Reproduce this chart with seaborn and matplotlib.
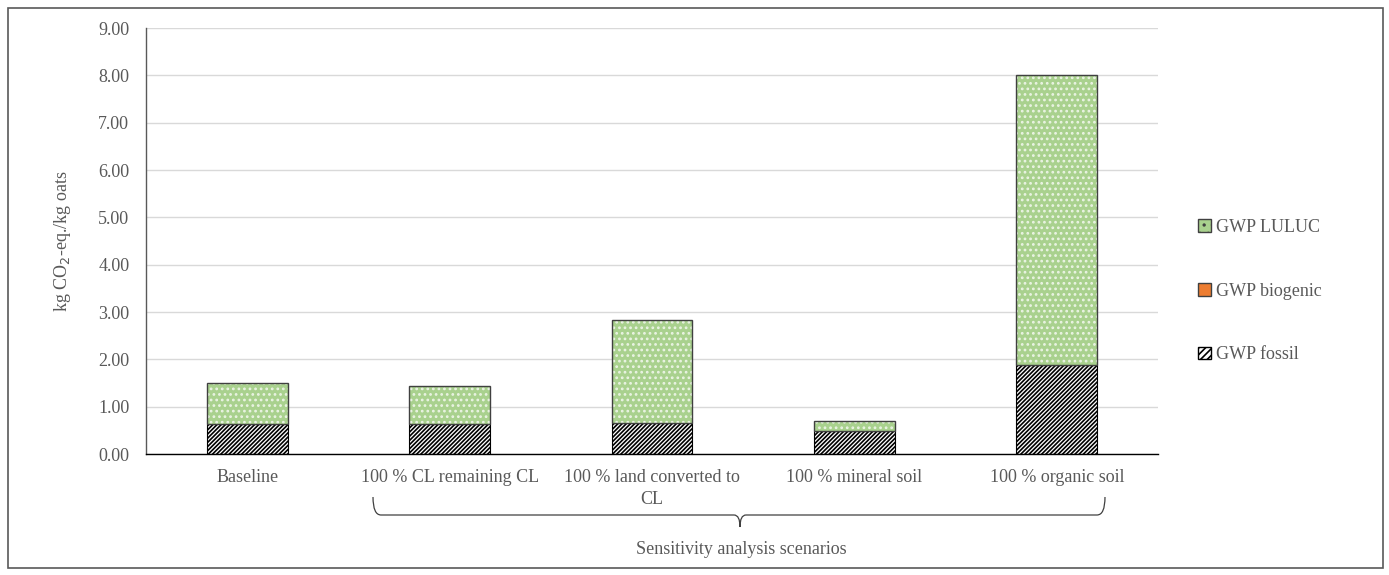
import numpy as np
import pandas as pd
import matplotlib
matplotlib.use("Agg")
import matplotlib.pyplot as plt
import seaborn as sns
from matplotlib.patches import Patch, Rectangle, PathPatch
from matplotlib.path import Path

# ── data ─────────────────────────────────────────────────────────────────────
scenarios = ["Baseline", "100 % CL remaining CL", "100 % land converted to\nCL",
             "100 % mineral soil", "100 % organic soil"]
gwp_fossil = [0.64, 0.64, 0.66, 0.49, 1.89]
gwp_biogenic = [0.0, 0.0, 0.0, 0.0, 0.0]
gwp_luluc = [0.87, 0.79, 2.18, 0.21, 6.11]
yticks = np.arange(0, 9.01, 1.0)

df = pd.DataFrame({"scenario": scenarios, "fossil": gwp_fossil,
                   "biogenic": gwp_biogenic, "luluc": gwp_luluc})
df["base_bio"] = df["fossil"]
df["base_luluc"] = df["fossil"] + df["biogenic"]

GREEN = "#A9D18E"
ORANGE = "#ED7D31"
TXT = "#595959"
FS = 13

sns.set_theme(style="white")
plt.rcParams["font.family"] = ["Liberation Serif", "DejaVu Serif"]
plt.rcParams["hatch.linewidth"] = 1.2

fig = plt.figure(figsize=(13.89, 5.75), dpi=100)
ax = fig.add_axes([0.1051, 0.2104, 0.7286, 0.7409])

# fossil
sns.barplot(data=df, x="scenario", y="fossil", color="white", saturation=1,
            width=0.4, edgecolor="black", linewidth=0.8, hatch="/" * 8, ax=ax)
# biogenic
sns.barplot(data=df, x="scenario", y="biogenic", bottom=df["base_bio"],
            color=ORANGE, saturation=1, width=0.4, linewidth=0, ax=ax)
# LULUC with white dots
sns.barplot(data=df, x="scenario", y="luluc", bottom=df["base_luluc"],
            color=GREEN, saturation=1, width=0.4, edgecolor="#EAF3E3",
            linewidth=0, hatch="...", ax=ax)
# outline of LULUC segment
sns.barplot(data=df, x="scenario", y="luluc", bottom=df["base_luluc"],
            color="#404040", fill=False, saturation=1, width=0.4,
            linewidth=1.0, ax=ax)

ax.set_ylim(0, 9)
ax.set_xlim(-0.5, len(scenarios) - 0.5)
ax.set_yticks(yticks)
ax.set_yticklabels([f"{v:.2f}" for v in yticks], color=TXT, fontsize=FS)
ax.tick_params(axis="x", colors=TXT, labelsize=FS, length=0, pad=11)
ax.tick_params(axis="y", length=0, pad=12)
for t in ax.get_xticklabels():
    t.set_linespacing(1.35)
ax.yaxis.grid(True, color="#D9D9D9", linewidth=1)
ax.set_axisbelow(True)
for s in ["top", "right"]:
    ax.spines[s].set_visible(False)
ax.spines["left"].set_color("#595959")
ax.spines["bottom"].set_color("black")
ax.spines["left"].set_linewidth(1)
ax.spines["bottom"].set_linewidth(1)
ax.set_xlabel("")
ax.set_ylabel("kg CO$_2$-eq./kg oats", color=TXT, fontsize=FS, labelpad=18)

# brace under scenarios 2–5
W, H = 1389, 575
def fx(px): return px / W
def fy(py): return 1 - py / H
x0, x1, xm = 373, 1105, 740
ytop, ymid, ytip = 497, 515, 527
verts = [(x0, ytop), (x0, ymid), (x0 + 8, ymid),
         (xm - 6, ymid), (xm, ymid), (xm, ytip),
         (xm, ymid), (xm + 6, ymid),
         (x1 - 8, ymid), (x1, ymid), (x1, ytop)]
codes = [Path.MOVETO, Path.CURVE3, Path.CURVE3,
         Path.LINETO, Path.CURVE3, Path.CURVE3,
         Path.CURVE3, Path.CURVE3,
         Path.LINETO, Path.CURVE3, Path.CURVE3]
verts = [(fx(a), fy(b)) for a, b in verts]
fig.add_artist(PathPatch(Path(verts, codes), transform=fig.transFigure,
                         fill=False, edgecolor="#404040", linewidth=0.9))
fig.text(fx(741), fy(549), "Sensitivity analysis scenarios", ha="center",
         va="center", color=TXT, fontsize=FS)

# legend
handles = [Patch(facecolor=GREEN, edgecolor="#404040", hatch="..", label="GWP LULUC"),
           Patch(facecolor=ORANGE, edgecolor="#404040", label="GWP biogenic"),
           Patch(facecolor="white", edgecolor="black", hatch="/////", label="GWP fossil")]
leg = fig.legend(handles=handles, loc="center left",
                 bbox_to_anchor=(fx(1182), fy(291)), frameon=False,
                 fontsize=FS, labelspacing=2.6, handlelength=0.7,
                 handleheight=0.7, handletextpad=0.3)
for t in leg.get_texts():
    t.set_color(TXT)

# outer frame
fig.add_artist(Rectangle((fx(8), fy(568)), fx(1375), 560 / H,
                         transform=fig.transFigure, fill=False,
                         edgecolor="#595959", linewidth=1.2))

fig.savefig("out.png", dpi=100)
